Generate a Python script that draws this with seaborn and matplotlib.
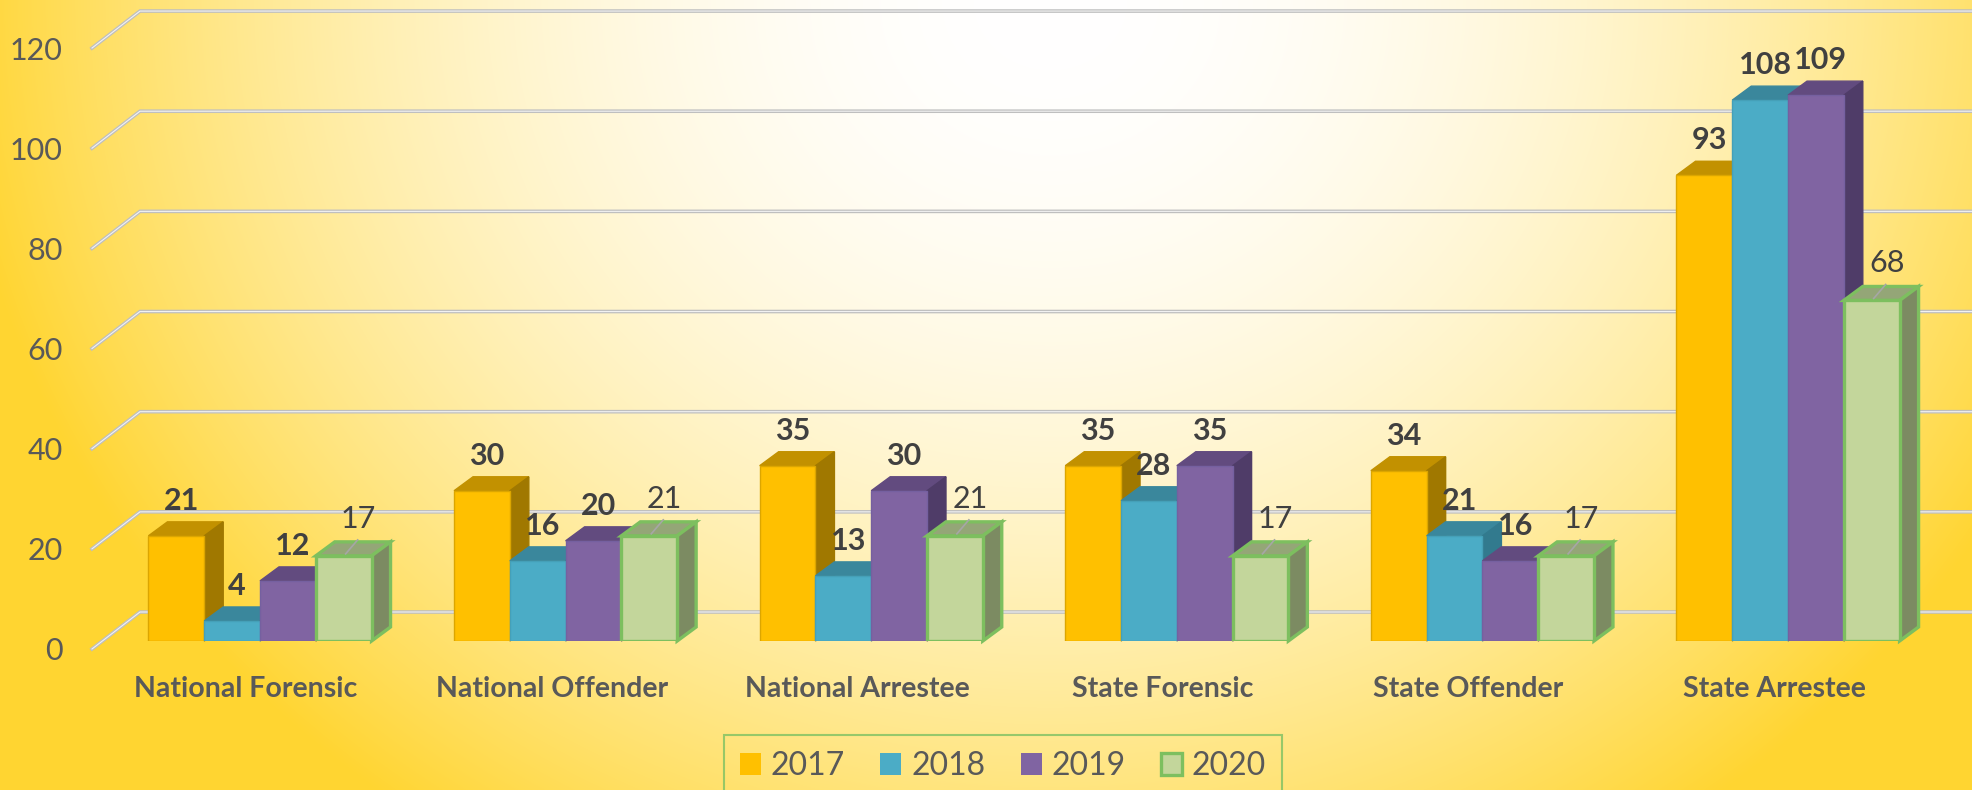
import numpy as np
import pandas as pd
import seaborn as sns
import matplotlib.pyplot as plt
import matplotlib.transforms as mtransforms
from matplotlib.patches import Polygon
from matplotlib.lines import Line2D
from matplotlib.colors import to_rgb

categories = ["National Forensic", "National Offender", "National Arrestee",
              "State Forensic", "State Offender", "State Arrestee"]
years = ["2017", "2018", "2019", "2020"]
values_2017 = [21, 30, 35, 35, 34, 93]
values_2018 = [4, 16, 13, 28, 21, 108]
values_2019 = [12, 20, 30, 35, 16, 109]
values_2020 = [17, 21, 21, 17, 17, 68]
y_ticks = [0, 20, 40, 60, 80, 100, 120]

front_colors = ["#FFC000", "#4BACC6", "#8064A2", "#C3D69B"]
top_colors = ["#C29100", "#3A879C", "#624B7F", "#94A677"]
side_colors = ["#A07800", "#327A8E", "#4F3C68", "#7C8B62"]
edge_colors = ["#DCA600", "#45A0B8", "#7560A0", "#7DBF5F"]
edge_widths = [1.0, 1.0, 1.0, 2.4]

df = pd.DataFrame({
    "category": categories * 4,
    "year": np.repeat(years, len(categories)),
    "value": values_2017 + values_2018 + values_2019 + values_2020,
})

plt.rcParams["font.family"] = ["Lato", "DejaVu Sans"]

W, H = 1972, 790
fig = plt.figure(figsize=(W / 100, H / 100), dpi=100)
ident = mtransforms.IdentityTransform()

# background: white glow near the top, gold towards the edges
yy, xx = np.mgrid[0:H, 0:W]
t = np.clip(np.sqrt(((xx - 1050) / 1100) ** 2 + (yy / 1000) ** 2), 0, 1) ** 2
gold = np.array(to_rgb("#FFD531"))
img = np.ones(3) * (1 - t[..., None]) + gold * t[..., None]
bg = fig.add_axes([0, 0, 1, 1], zorder=-10)
bg.imshow(img, aspect="auto")
bg.axis("off")

ax = fig.add_axes([92 / W, 149 / H, 1880 / W, 636 / H])
ax.set_facecolor("none")

sns.barplot(data=df, x="category", y="value", hue="year", order=categories,
            hue_order=years, palette=front_colors, saturation=1, width=0.73,
            ax=ax)
ax.set_xlim(-0.5497, 5.602)
ax.set_ylim(0, 127)
ax.set_xlabel("")
ax.set_ylabel("")
for s in ax.spines.values():
    s.set_visible(False)

# depth of the 3d look, in pixels
dx, dy = 19, 14

# back wall gridlines with the diagonal to the front
x0 = ax.get_xlim()[0]
for v in y_ticks:
    px, py = ax.transData.transform((x0, v))
    xs = [px, px + 48, W]
    ys = [py - 8, py + 29, py + 29]
    ax.add_artist(Line2D(xs, ys, transform=ident, color="#BFBFBF", lw=2.6,
                         zorder=1, clip_on=False, solid_joinstyle="miter"))
    ax.add_artist(Line2D(xs, ys, transform=ident, color="#F2F2F2", lw=0.8,
                         zorder=1.1, clip_on=False))

for hi, cont in enumerate(ax.containers):
    z = 3 + hi * 0.1
    for bar in cont:
        bar.set_edgecolor(edge_colors[hi])
        bar.set_linewidth(edge_widths[hi])
        bar.set_zorder(z + 0.05)
        xb, w, h = bar.get_x(), bar.get_width(), bar.get_height()
        (l, b) = ax.transData.transform((xb, 0))
        (r, tp) = ax.transData.transform((xb + w, h))
        top = [(l, tp), (r, tp), (r + dx, tp + dy), (l + dx, tp + dy)]
        side = [(r, b), (r, tp), (r + dx, tp + dy), (r + dx, b + dy)]
        for pts, col in ((top, top_colors[hi]), (side, side_colors[hi])):
            ax.add_artist(Polygon(pts, closed=True, transform=ident,
                                  facecolor=col, edgecolor=edge_colors[hi] if hi == 3 else col,
                                  lw=edge_widths[hi], zorder=z, clip_on=False))
        cx = (l + r) / 2
        if hi == 3:
            ax.add_artist(Line2D([cx + 2, cx + 14], [tp + 2, tp + 16],
                                 transform=ident, color="#A6A6A6", lw=1.2,
                                 zorder=z + 0.06, clip_on=False))
            ax.text(cx + 15, tp + 37, f"{h:.0f}", transform=ident, ha="center",
                    va="center", fontsize=22, color="#404040", zorder=6,
                    clip_on=False)
        else:
            ax.text(cx + 5, tp + 35, f"{h:.0f}", transform=ident, ha="center",
                    va="center", fontsize=22, fontweight="bold",
                    color="#404040", zorder=6, clip_on=False)

ax.set_yticks(y_ticks)
ax.set_xticks(range(len(categories)), categories, fontweight="bold")
ax.tick_params(axis="y", length=0, pad=21, labelsize=22, labelcolor="#595959")
ax.tick_params(axis="x", length=0, pad=25, labelsize=20.5, labelcolor="#595959")
for lab in ax.get_yticklabels():
    lab.set_transform(lab.get_transform() +
                      mtransforms.ScaledTranslation(0, -8 / 100, fig.dpi_scale_trans))
for lab in ax.get_xticklabels():
    lab.set_transform(lab.get_transform() +
                      mtransforms.ScaledTranslation(-14 / 100, 0, fig.dpi_scale_trans))

sns.move_legend(ax, "upper center", bbox_to_anchor=(1003 / W, 55 / H),
                bbox_transform=fig.transFigure, ncol=4, title=None,
                fontsize=23, handlelength=0.66, handleheight=0.66,
                handletextpad=0.31, columnspacing=1.1, borderpad=0.5,
                borderaxespad=0, fancybox=False, frameon=True)
leg = ax.get_legend()
leg.get_frame().set_facecolor("none")
leg.get_frame().set_edgecolor("#7DC163")
leg.get_frame().set_linewidth(1.5)
for hnd, ec, lw in zip(leg.legend_handles, edge_colors, edge_widths):
    hnd.set_edgecolor(ec if lw > 1 else "none")
    hnd.set_linewidth(lw)
for txt in leg.get_texts():
    txt.set_color("#595959")

fig.savefig("out.png", dpi=100)
